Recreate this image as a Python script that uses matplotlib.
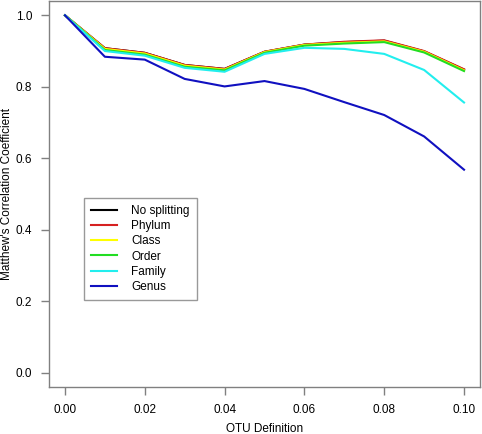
import matplotlib
matplotlib.use("Agg")
import matplotlib.pyplot as plt
import numpy as np

plt.rcParams["font.family"] = ["Liberation Sans", "DejaVu Sans"]

otu = [0.00, 0.01, 0.02, 0.03, 0.04, 0.05, 0.06, 0.07, 0.08, 0.09, 0.10]
noSplit = [1.0, 0.908, 0.895, 0.861, 0.850, 0.898, 0.918, 0.925, 0.929, 0.899, 0.848]
phylum = [1.0, 0.908, 0.895, 0.861, 0.850, 0.898, 0.918, 0.926, 0.930, 0.900, 0.849]
klass = [1.0, 0.906, 0.893, 0.859, 0.848, 0.897, 0.917, 0.923, 0.927, 0.898, 0.846]
order = [1.0, 0.903, 0.890, 0.856, 0.846, 0.895, 0.915, 0.921, 0.925, 0.896, 0.844]
family = [1.0, 0.900, 0.887, 0.853, 0.842, 0.892, 0.909, 0.906, 0.892, 0.847, 0.756]
genus = [1.0, 0.884, 0.876, 0.822, 0.801, 0.816, 0.794, 0.757, 0.721, 0.661, 0.568]

names = ["No splitting", "Phylum", "Class", "Order", "Family", "Genus"]
colors = ["#000000", "#d62020", "#ffff00", "#22dd22", "#22eeee", "#1010c0"]
series = [noSplit, phylum, klass, order, family, genus]

fig = plt.figure(figsize=(4.82, 4.34), dpi=100)
ax = fig.add_axes([49 / 482, 47 / 434, 431 / 482, 386 / 434])

for y, c, n in zip(series, colors, names):
    ax.plot(otu, y, color=c, lw=1.5, label=n)

ax.set_xlim(-0.004, 0.104)
ax.set_ylim(-0.04, 1.04)
ax.set_xticks(np.arange(0, 0.101, 0.02))
ax.set_xticklabels([f"{v:.2f}" for v in np.arange(0, 0.101, 0.02)])
ax.set_yticks(np.arange(0, 1.01, 0.2))
ax.set_yticklabels([f"{v:.1f}" for v in np.arange(0, 1.01, 0.2)])
for s in ax.spines.values():
    s.set_color("#808080")
    s.set_linewidth(1.0)
ax.tick_params(direction="out", length=6, width=1, color="#808080", labelsize=8.5, pad=6)
ax.set_xlabel("OTU Definition", fontsize=8.5, labelpad=5)
ax.set_ylabel("Matthew's Correlation Coefficient", fontsize=8.5, labelpad=2)

leg = ax.legend(loc="upper left", bbox_to_anchor=(29 / 431, (387 - 192) / 386),
                fontsize=8.5, frameon=True, fancybox=False, handlelength=2.2,
                labelspacing=0.27, borderpad=0.6, handletextpad=1.2)
leg.get_frame().set_edgecolor("#808080")
leg.get_frame().set_linewidth(1.0)

fig.savefig("out.png", dpi=100)
